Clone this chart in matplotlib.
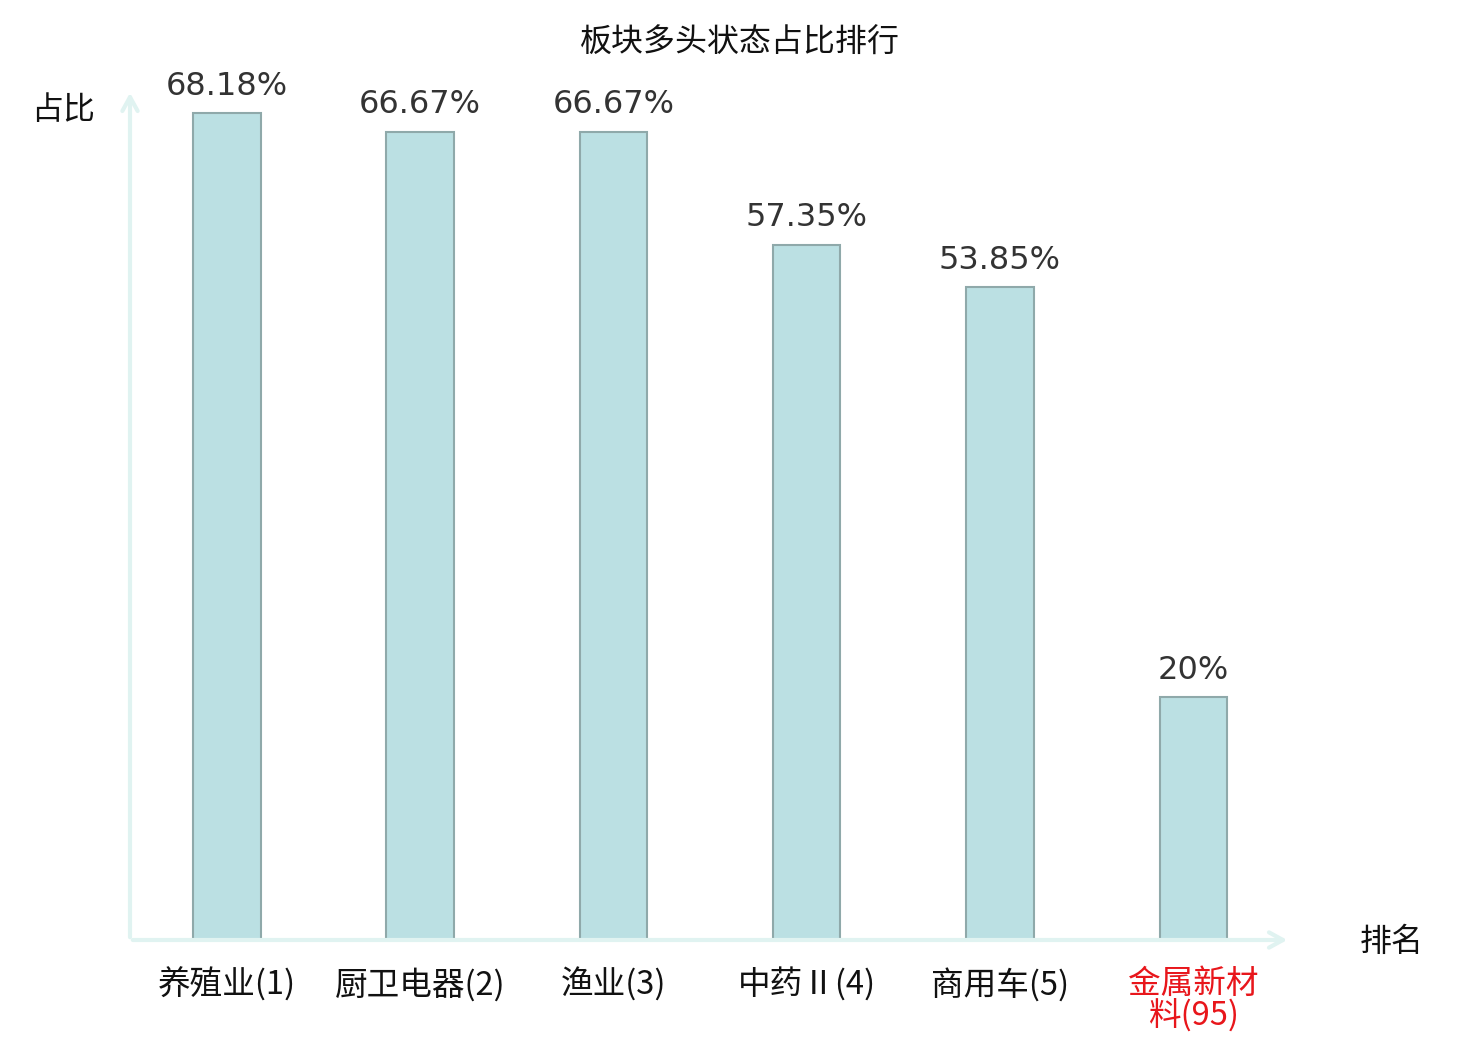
import matplotlib
matplotlib.use("Agg")
import matplotlib.pyplot as plt

plt.rcParams['font.family'] = ['Noto Sans CJK SC', 'DejaVu Sans']

# 数据
sectors = ["养殖业(1)", "厨卫电器(2)", "渔业(3)", "中药Ⅱ(4)", "商用车(5)", "金属新材\n料(95)"]
ratios = [68.18, 66.67, 66.67, 57.35, 53.85, 20]
ratio_labels = ["68.18%", "66.67%", "66.67%", "57.35%", "53.85%", "20%"]
label_colors = ["#111111", "#111111", "#111111", "#111111", "#111111", "#e8161b"]

fig = plt.figure(figsize=(14.8, 10.4), dpi=100)
ax = fig.add_axes([130/1480, 1 - 940/1040, 1160/1480, 850/1040])

x = list(range(len(sectors)))
bars = ax.bar(x, ratios, width=0.35, color="#bbe0e3", edgecolor="#8fa9aa", linewidth=1.5)

for xi, v, lab in zip(x, ratios, ratio_labels):
    ax.annotate(lab, (xi, v), xytext=(0, 8), textcoords="offset points",
                ha="center", va="bottom", fontsize=23, color="#333333",
                family="DejaVu Sans")

ax.set_xlim(-0.5, 5.5)
ax.set_ylim(0, 70.1)
ax.set_xticks(x)
ax.set_xticklabels(sectors, fontsize=23.5, linespacing=0.93)
for t, c in zip(ax.get_xticklabels(), label_colors):
    t.set_color(c)
ax.tick_params(axis="x", length=0, pad=20)
ax.set_yticks([])
for s in ax.spines.values():
    s.set_visible(False)

# 坐标轴箭头
axis_col = "#e0f3f1"
ax.annotate("", xy=(1.0, 0), xytext=(0, 0), xycoords="axes fraction",
            arrowprops=dict(arrowstyle="->,head_length=1.0,head_width=0.55", color=axis_col, lw=3),
            annotation_clip=False)
ax.annotate("", xy=(0, 1.0), xytext=(0, 0), xycoords="axes fraction",
            arrowprops=dict(arrowstyle="->,head_length=1.0,head_width=0.55", color=axis_col, lw=3),
            annotation_clip=False)

fig.text(740/1480, 1 - 43/1040, "板块多头状态占比排行", ha="center", va="center", fontsize=23, color="#111111")
fig.text(63/1480, 1 - 110/1040, "占比", ha="center", va="center", fontsize=23, color="#111111")
fig.text(1392/1480, 1 - 942/1040, "排名", ha="center", va="center", fontsize=23, color="#111111")

fig.savefig("out.png", dpi=100)
